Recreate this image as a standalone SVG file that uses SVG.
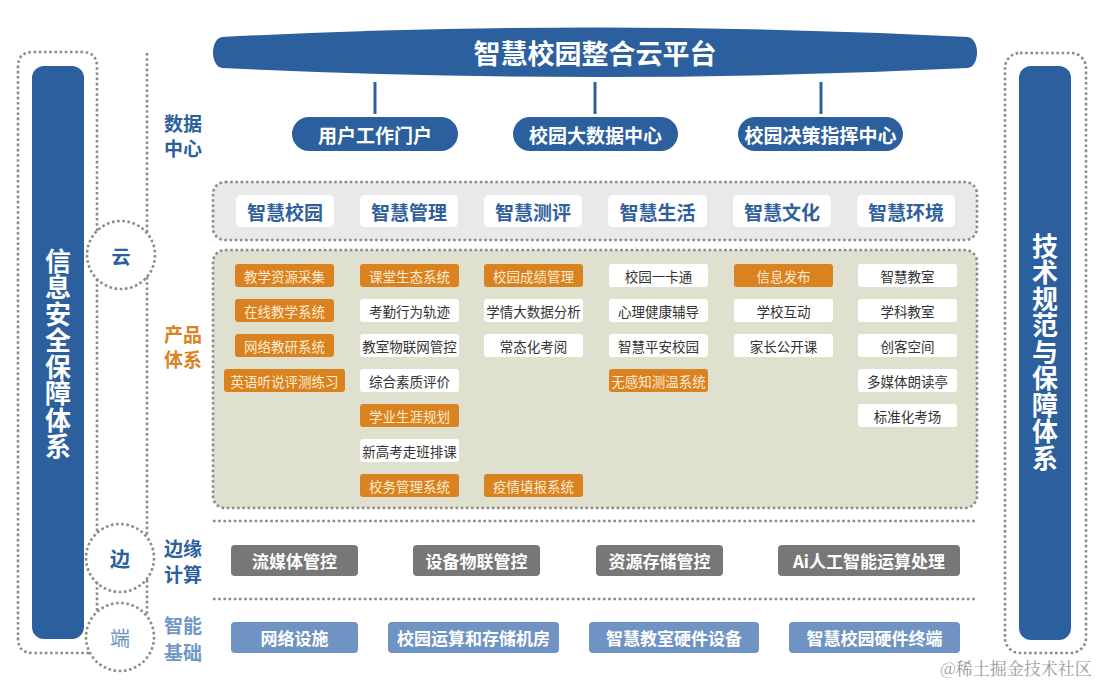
<svg xmlns="http://www.w3.org/2000/svg" width="1108" height="686" viewBox="0 0 1108 686">
<style>
text { font-family: "Noto Sans CJK SC", "Noto Sans", sans-serif; dominant-baseline: central; text-anchor: middle; }
.dot { fill: none; stroke: #8c8c8c; stroke-width: 2.6; stroke-dasharray: 2.6 2.6; }
.blue { fill: #2c5f9e; }
.wb { fill: #ffffff; font-weight: 700; }
.vert { writing-mode: vertical-rl; text-orientation: upright; letter-spacing: 0.5px; }
.bt { fill: #2c5f9e; font-weight: 700; }
.ot { fill: #d9821f; font-weight: 700; }
.lt { fill: #7097c6; font-weight: 700; }
.tab { fill: #ffffff; }
.tabt { fill: #30609c; font-weight: 700; font-size: 19px; }
.ow { fill: #d9821f; }
.wh { fill: #ffffff; }
.owt { fill: #fcebd3; font-size: 13.5px; }
.wht { fill: #333333; font-size: 13.5px; }
.edge { fill: #777777; }
.base { fill: #6f94c4; }
.bxt { fill: #ffffff; font-weight: 700; font-size: 17px; }
.conn { stroke: #2c5f9e; stroke-width: 3; }
</style>
<rect width="1108" height="686" fill="#ffffff"/>

<g id="left-frame">
  <path class="dot" d="M97,231 L97,67 Q97,52 82,52 L33,52 Q18,52 18,67 L18,638 Q18,653 33,653 L90,653"/>
  <line class="dot" x1="147" y1="53" x2="147" y2="233"/>
  <line class="dot" x1="97" y1="279" x2="97" y2="534"/>
  <line class="dot" x1="147" y1="277" x2="147" y2="536"/>
  <line class="dot" x1="97" y1="582" x2="97" y2="613"/>
  <line class="dot" x1="147" y1="580" x2="147" y2="615"/>
</g>

<g id="security">
  <rect class="blue" x="32" y="66" width="52" height="573" rx="12"/>
  <text class="wb vert" x="58" y="354" font-size="26">信息安全保障体系</text>
</g>

<g id="standards">
  <rect class="dot" x="1005" y="53" width="81" height="600" rx="15"/>
  <rect class="blue" x="1019" y="66" width="52" height="574" rx="12"/>
  <text class="wb vert" x="1045" y="352" font-size="26">技术规范与保障体系</text>
</g>

<g id="layer-cloud">
  <circle class="dot" cx="121" cy="255" r="34"/>
  <text class="bt" x="121" y="255" font-size="19">云</text>
</g>
<g id="layer-edge">
  <circle class="dot" cx="120" cy="558" r="34"/>
  <text class="bt" x="120" y="558" font-size="20">边</text>
</g>
<g id="layer-end">
  <circle class="dot" cx="120" cy="637" r="34"/>
  <text x="120" y="637" font-size="20" fill="#6f94c4">端</text>
</g>

<g id="side-labels">
  <text class="bt" x="183" y="122" font-size="19">数据</text>
  <text class="bt" x="183" y="147" font-size="19">中心</text>
  <text class="ot" x="183" y="333" font-size="19">产品</text>
  <text class="ot" x="183" y="358" font-size="19">体系</text>
  <text class="bt" x="183" y="547" font-size="19">边缘</text>
  <text class="bt" x="183" y="573" font-size="19">计算</text>
  <text class="lt" x="183" y="624" font-size="19">智能</text>
  <text class="lt" x="183" y="651" font-size="19">基础</text>
</g>

<g id="platform">
  <path class="blue" d="M222,37 Q595,18 968,37 C980,39 980,66 968,68 Q595,86 222,68 C210,66 210,39 222,37 Z"/>
  <text class="wb" x="595" y="52" font-size="27">智慧校园整合云平台</text>
</g>

<g id="connectors">
  <line class="conn" x1="375" y1="82" x2="375" y2="114"/>
  <line class="conn" x1="595" y1="82" x2="595" y2="114"/>
  <line class="conn" x1="821" y1="82" x2="821" y2="114"/>
</g>

<g id="portal">
  <rect class="blue" x="292" y="117" width="166" height="34" rx="17"/>
  <text class="wb" x="375" y="134" font-size="19">用户工作门户</text>
</g>
<g id="bigdata">
  <rect class="blue" x="513" y="117" width="165" height="34" rx="17"/>
  <text class="wb" x="595.5" y="134" font-size="19">校园大数据中心</text>
</g>
<g id="decision">
  <rect class="blue" x="738" y="117" width="165" height="34" rx="17"/>
  <text class="wb" x="820.5" y="134" font-size="19">校园决策指挥中心</text>
</g>

<g id="category-panel">
  <rect class="dot" x="213" y="182" width="764" height="58" rx="12" style="fill:#e9e9eb"/>
  <rect class="tab" x="236" y="195" width="98" height="32" rx="5"/><text class="tabt" x="285" y="211">智慧校园</text>
  <rect class="tab" x="360" y="195" width="98" height="32" rx="5"/><text class="tabt" x="409" y="211">智慧管理</text>
  <rect class="tab" x="484" y="195" width="98" height="32" rx="5"/><text class="tabt" x="533" y="211">智慧测评</text>
  <rect class="tab" x="608" y="195" width="99" height="32" rx="5"/><text class="tabt" x="657.5" y="211">智慧生活</text>
  <rect class="tab" x="733" y="195" width="98" height="32" rx="5"/><text class="tabt" x="782" y="211">智慧文化</text>
  <rect class="tab" x="857" y="195" width="98" height="32" rx="5"/><text class="tabt" x="906" y="211">智慧环境</text>
</g>

<g id="product-panel">
  <rect class="dot" x="213" y="250" width="764" height="258" rx="12" style="fill:#e0e0cf"/>
</g>

<g id="col-campus">
  <rect class="ow" x="235" y="264" width="99" height="23" rx="3"/><text class="owt" x="284.5" y="275.5">教学资源采集</text>
  <rect class="ow" x="235" y="299" width="99" height="23" rx="3"/><text class="owt" x="284.5" y="310.5">在线教学系统</text>
  <rect class="ow" x="235" y="334" width="99" height="23" rx="3"/><text class="owt" x="284.5" y="345.5">网络教研系统</text>
  <rect class="ow" x="224" y="369" width="121" height="23" rx="3"/><text class="owt" x="284.5" y="380.5">英语听说评测练习</text>
</g>
<g id="col-manage">
  <rect class="ow" x="360" y="264" width="99" height="23" rx="3"/><text class="owt" x="409.5" y="275.5">课堂生态系统</text>
  <rect class="wh" x="360" y="299" width="99" height="23" rx="3"/><text class="wht" x="409.5" y="310.5">考勤行为轨迹</text>
  <rect class="wh" x="360" y="334" width="99" height="23" rx="3"/><text class="wht" x="409.5" y="345.5">教室物联网管控</text>
  <rect class="wh" x="360" y="369" width="99" height="23" rx="3"/><text class="wht" x="409.5" y="380.5">综合素质评价</text>
  <rect class="ow" x="360" y="404" width="99" height="23" rx="3"/><text class="owt" x="409.5" y="415.5">学业生涯规划</text>
  <rect class="wh" x="360" y="439" width="99" height="23" rx="3"/><text class="wht" x="409.5" y="450.5">新高考走班排课</text>
  <rect class="ow" x="360" y="474" width="99" height="23" rx="3"/><text class="owt" x="409.5" y="485.5">校务管理系统</text>
</g>
<g id="col-eval">
  <rect class="ow" x="484" y="264" width="99" height="23" rx="3"/><text class="owt" x="533.5" y="275.5">校园成绩管理</text>
  <rect class="wh" x="484" y="299" width="99" height="23" rx="3"/><text class="wht" x="533.5" y="310.5">学情大数据分析</text>
  <rect class="wh" x="484" y="334" width="99" height="23" rx="3"/><text class="wht" x="533.5" y="345.5">常态化考阅</text>
  <rect class="ow" x="484" y="474" width="99" height="23" rx="3"/><text class="owt" x="533.5" y="485.5">疫情填报系统</text>
</g>
<g id="col-life">
  <rect class="wh" x="609" y="264" width="99" height="23" rx="3"/><text class="wht" x="658.5" y="275.5">校园一卡通</text>
  <rect class="wh" x="609" y="299" width="99" height="23" rx="3"/><text class="wht" x="658.5" y="310.5">心理健康辅导</text>
  <rect class="wh" x="609" y="334" width="99" height="23" rx="3"/><text class="wht" x="658.5" y="345.5">智慧平安校园</text>
  <rect class="ow" x="609" y="369" width="99" height="23" rx="3"/><text class="owt" x="658.5" y="380.5">无感知测温系统</text>
</g>
<g id="col-culture">
  <rect class="ow" x="734" y="264" width="99" height="23" rx="3"/><text class="owt" x="783.5" y="275.5">信息发布</text>
  <rect class="wh" x="734" y="299" width="99" height="23" rx="3"/><text class="wht" x="783.5" y="310.5">学校互动</text>
  <rect class="wh" x="734" y="334" width="99" height="23" rx="3"/><text class="wht" x="783.5" y="345.5">家长公开课</text>
</g>
<g id="col-env">
  <rect class="wh" x="858" y="264" width="99" height="23" rx="3"/><text class="wht" x="907.5" y="275.5">智慧教室</text>
  <rect class="wh" x="858" y="299" width="99" height="23" rx="3"/><text class="wht" x="907.5" y="310.5">学科教室</text>
  <rect class="wh" x="858" y="334" width="99" height="23" rx="3"/><text class="wht" x="907.5" y="345.5">创客空间</text>
  <rect class="wh" x="858" y="369" width="99" height="23" rx="3"/><text class="wht" x="907.5" y="380.5">多媒体朗读亭</text>
  <rect class="wh" x="858" y="404" width="99" height="23" rx="3"/><text class="wht" x="907.5" y="415.5">标准化考场</text>
</g>

<g id="separators">
  <line class="dot" x1="213" y1="521" x2="977" y2="521"/>
  <line class="dot" x1="213" y1="599" x2="977" y2="599"/>
</g>

<g id="edge-row">
  <rect class="edge" x="231" y="545" width="127" height="31" rx="4"/><text class="bxt" x="294.5" y="560.5">流媒体管控</text>
  <rect class="edge" x="413" y="545" width="127" height="31" rx="4"/><text class="bxt" x="476.5" y="560.5">设备物联管控</text>
  <rect class="edge" x="596" y="545" width="127" height="31" rx="4"/><text class="bxt" x="659.5" y="560.5">资源存储管控</text>
  <rect class="edge" x="778" y="545" width="182" height="31" rx="4"/><text class="bxt" x="869" y="560.5">Ai人工智能运算处理</text>
</g>

<g id="base-row">
  <rect class="base" x="231" y="622" width="127" height="31" rx="4"/><text class="bxt" x="294.5" y="637.5">网络设施</text>
  <rect class="base" x="388" y="622" width="171" height="31" rx="4"/><text class="bxt" x="473.5" y="637.5">校园运算和存储机房</text>
  <rect class="base" x="589" y="622" width="170" height="31" rx="4"/><text class="bxt" x="674" y="637.5">智慧教室硬件设备</text>
  <rect class="base" x="789" y="622" width="171" height="31" rx="4"/><text class="bxt" x="874.5" y="637.5">智慧校园硬件终端</text>
</g>

<text x="1016" y="667" font-size="17" fill="#9a9a9a" style="font-family:'Noto Serif CJK SC','Noto Sans CJK SC',serif">@稀土掘金技术社区</text>
</svg>
